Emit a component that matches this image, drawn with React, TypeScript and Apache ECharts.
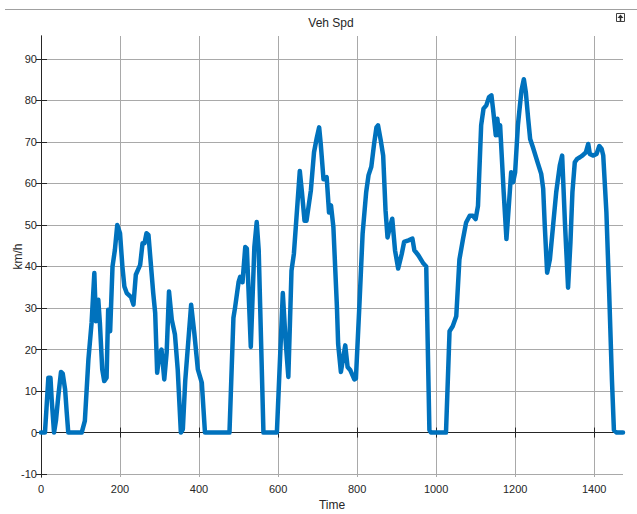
import React, { useEffect, useRef } from "react";
import * as echarts from "echarts";

const timeValues: number[] = [
  0, 10, 14, 18.6, 24, 27, 33, 38, 44, 50.6, 55, 61, 65, 69, 103, 111, 120, 128, 135, 139,
  145, 149, 155, 160, 166, 170, 175, 181, 187, 193, 200, 206, 211, 217, 228, 234, 240, 251, 257, 262,
  267, 272, 284, 289, 294, 299, 305, 312, 318, 324, 331, 339, 346, 354, 359, 365, 380, 388, 397, 407,
  415, 477, 487, 491, 500, 504, 510, 517, 521, 531, 540, 546, 551, 563, 597, 612, 619, 626, 634, 640,
  649, 655, 660, 667, 672, 683, 691, 698, 704, 708, 715, 723, 729, 734, 740, 749, 752, 759, 770, 776,
  783, 793, 797, 806, 814, 823, 829, 836, 843, 849, 853, 860, 866, 872, 877, 883, 889, 896, 904, 913,
  919, 930, 940, 945, 955, 968, 975, 983, 987, 1025, 1034, 1042, 1051, 1059, 1068, 1076, 1085, 1093, 1100, 1106,
  1114, 1120, 1127, 1134, 1140, 1144, 1151, 1155, 1159, 1162, 1171, 1178, 1184, 1190, 1195, 1200, 1207, 1216, 1222, 1227,
  1233, 1238, 1245, 1258, 1266, 1271, 1275, 1281, 1288, 1296, 1304, 1313, 1319, 1326, 1334, 1340, 1345, 1351, 1357, 1364,
  1370, 1379, 1385, 1389, 1397, 1406, 1413, 1419, 1423, 1431, 1438, 1445, 1450, 1457, 1473,
];

const speedValues: number[] = [
  0, 0, 6, 13.2, 13.2, 8, 0, 3, 9, 14.6, 14.2, 10.4, 5, 0, 0, 2.8, 17.6, 26.4, 38.4, 26.8,
  32, 26.4, 15.2, 12.4, 13.2, 29.6, 24.4, 40, 44, 50, 48, 40, 35.2, 33.6, 32.6, 30.8, 38, 40.4, 45.6, 45.6,
  48, 47.6, 33.6, 28.8, 14.4, 18.4, 20, 12.8, 19.2, 34, 27.2, 23.6, 15.2, 0, 0.8, 12.4, 30.8, 24, 15.2, 12,
  0, 0, 27.6, 30, 36.2, 37.5, 36.2, 44.7, 44.3, 20.6, 44.7, 50.7, 43.9, 0, 0, 33.6, 22.2, 13.4, 39, 43,
  55, 63, 58.3, 51, 51, 58.3, 67.5, 71, 73.5, 69.5, 61, 61.5, 53, 54.7, 49.5, 30.2, 21.4, 14.6, 21, 15.8,
  15, 12.8, 13, 31, 47.9, 57.9, 62, 64, 69.5, 73.5, 74, 70.3, 66.7, 53.5, 47, 49.5, 51.5, 43.9, 39.5, 43,
  45.9, 46.3, 46.7, 43.9, 42.7, 40.7, 40, 0.6, 0, 0, 24.4, 25.6, 28, 41.7, 46.6, 50.6, 52.2, 52.2, 51.4, 54.6,
  74, 78, 78.8, 80.8, 81.2, 78, 71.6, 75.6, 71.6, 74, 57.9, 46.6, 54.6, 62.7, 60.3, 62.7, 74, 82.4, 85.1, 82,
  75.6, 70.7, 68.7, 64.7, 62.3, 58.7, 49.8, 38.5, 41.7, 49.8, 57.9, 64.3, 66.7, 50.6, 34.9, 45.8, 57.9, 65.1, 65.9, 66.3,
  66.7, 67.5, 69.5, 67.1, 66.7, 67.1, 69, 68.3, 66.7, 53, 33.7, 12.7, 0.6, 0, 0,
];

const xTicks: number[] = [0, 200, 400, 600, 800, 1000, 1200, 1400];
const yTicks: number[] = [-10, 0, 10, 20, 30, 40, 50, 60, 70, 80, 90];

const X_MIN = 0;
const X_MAX = 1473;
const Y_MIN = -10.7;
const Y_MAX = 95.5;

export default function App() {
  const ref = useRef<HTMLDivElement>(null);

  useEffect(() => {
    if (!ref.current) return;
    const chart = echarts.init(ref.current, null, { renderer: "svg" });
    const font = "'Liberation Sans', Arial, Helvetica, sans-serif";
    const textColor = "#262626";
    const gridColor = "#a9a9a9";
    const axisColor = "#262626";

    const option: any = {
      animation: false,
      backgroundColor: "#ffffff",
      textStyle: { fontFamily: font },
      grid: { left: 41, right: 14, top: 36, bottom: 37, containLabel: false, outerBoundsMode: "none" },
      xAxis: [
        {
          type: "value",
          min: X_MIN,
          max: X_MAX,
          name: "Time",
          nameLocation: "middle",
          nameGap: 22,
          nameMoveOverlap: false,
          nameTextStyle: { fontSize: 12, color: textColor, fontFamily: font },
          axisLine: { show: true, lineStyle: { color: axisColor, width: 1 } },
          axisTick: { show: true, inside: true, length: 5, customValues: xTicks, lineStyle: { color: axisColor } },
          axisLabel: {
            customValues: xTicks,
            fontSize: 11,
            color: textColor,
            margin: 6,
            fontFamily: font,
            formatter: (v: number) => String(v),
          },
          splitLine: { show: true, lineStyle: { color: gridColor, width: 1 } },
        },
        {
          type: "value",
          position: "top",
          min: X_MIN,
          max: X_MAX,
          axisLine: { show: true, lineStyle: { color: axisColor, width: 1 } },
          axisTick: { show: true, inside: true, length: 5, customValues: xTicks, lineStyle: { color: axisColor } },
          axisLabel: { show: false },
          splitLine: { show: false },
        },
      ],
      yAxis: [
        {
          type: "value",
          min: Y_MIN,
          max: Y_MAX,
          name: "km/h",
          nameLocation: "middle",
          nameGap: 17,
          nameMoveOverlap: false,
          nameTextStyle: { fontSize: 12, color: textColor, fontFamily: font },
          axisLine: { show: true, lineStyle: { color: axisColor, width: 1 } },
          axisTick: { show: true, inside: true, length: 6, customValues: yTicks, lineStyle: { color: axisColor } },
          axisLabel: {
            customValues: yTicks,
            fontSize: 11,
            color: textColor,
            margin: 4,
            fontFamily: font,
            formatter: (v: number) => String(v),
          },
          splitLine: { show: true, lineStyle: { color: gridColor, width: 1 } },
        },
        {
          type: "value",
          position: "right",
          min: Y_MIN,
          max: Y_MAX,
          axisLine: { show: true, lineStyle: { color: axisColor, width: 1 } },
          axisTick: { show: true, inside: true, length: 5, customValues: yTicks, lineStyle: { color: axisColor } },
          axisLabel: { show: false },
          splitLine: { show: false },
        },
      ],
      series: [
        {
          type: "line",
          xAxisIndex: 0,
          yAxisIndex: 0,
          data: timeValues.map((t, i) => [t, speedValues[i]]),
          showSymbol: false,
          symbol: "none",
          lineStyle: { color: "#0072BD", width: 4.5, join: "round", cap: "round" },
          clip: true,
        },
      ],
      graphic: [
        {
          type: "line",
          shape: { x1: 5, y1: 9.5, x2: 637, y2: 9.5 },
          style: { stroke: "#a0a0a0", lineWidth: 1 },
          silent: true,
        },
        {
          type: "text",
          x: 331,
          y: 23,
          style: {
            text: "Veh Spd",
            fontSize: 12,
            fill: textColor,
            fontFamily: font,
            textAlign: "center",
            textVerticalAlign: "middle",
          },
          silent: true,
        },
        {
          type: "rect",
          shape: { x: 616.5, y: 13.5, width: 8, height: 8 },
          style: { fill: "#ffffff", stroke: "#404040", lineWidth: 1 },
          silent: true,
        },
        {
          type: "polygon",
          shape: { points: [[620.5, 14.5], [617.5, 18], [623.5, 18]] },
          style: { fill: "#303030" },
          silent: true,
        },
        {
          type: "line",
          shape: { x1: 620.5, y1: 17, x2: 620.5, y2: 21 },
          style: { stroke: "#303030", lineWidth: 1.5 },
          silent: true,
        },
      ],
    };

    chart.setOption(option);
    return () => {
      chart.dispose();
    };
  }, []);

  return (
    <div
      ref={ref}
      style={{ position: "fixed", left: 0, top: 0, width: 637, height: 514 }}
    />
  );
}
